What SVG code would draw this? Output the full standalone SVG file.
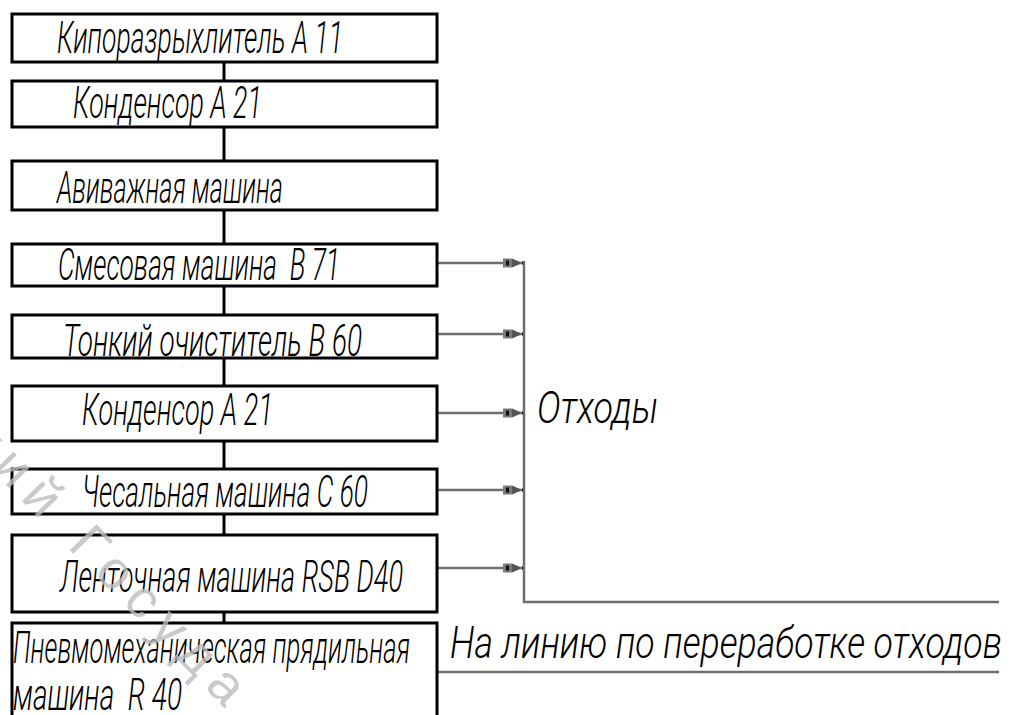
<svg xmlns="http://www.w3.org/2000/svg" width="1012" height="715" viewBox="0 0 1012 715">
<style>
.box{fill:#fff;stroke:#000;stroke-width:3}
.flow{stroke:#000;stroke-width:3;fill:none}
.waste{stroke:#6e6e6e;stroke-width:2.5;fill:none}
.t{font-family:Roboto,"DejaVu Sans",sans-serif;font-weight:300;font-style:italic;font-size:44px;fill:#000;white-space:pre}
.wm{font-family:"Liberation Sans","DejaVu Sans",sans-serif;font-size:54px;fill:#bdbdbd;opacity:0.8}
</style>
<defs>
<marker id="ah" markerUnits="userSpaceOnUse" markerWidth="24" markerHeight="14" refX="21" refY="7" orient="auto" viewBox="0 0 24 14">
<rect x="0" y="2.5" width="9" height="9" fill="#7a7a7a"/>
<rect x="3" y="4.5" width="3" height="5" fill="#111"/>
<polygon points="9,2.5 17,6 17,8 9,11.5" fill="#555"/>
<rect x="19" y="5.5" width="3" height="3" fill="#000"/>
</marker>
</defs>
<rect width="1012" height="715" fill="#fff"/>
<g id="connectors">
<line class="flow" x1="224" y1="62" x2="224" y2="81"/>
<line class="flow" x1="224" y1="127" x2="224" y2="161"/>
<line class="flow" x1="224" y1="210" x2="224" y2="244"/>
<line class="flow" x1="224" y1="286" x2="224" y2="315"/>
<line class="flow" x1="224" y1="358" x2="224" y2="386"/>
<line class="flow" x1="224" y1="441" x2="224" y2="469"/>
<line class="flow" x1="224" y1="514" x2="224" y2="535"/>
<line class="flow" x1="224" y1="612" x2="224" y2="623"/>
<line class="waste" x1="437" y1="263" x2="524" y2="263" marker-end="url(#ah)"/>
<line class="waste" x1="437" y1="334" x2="524" y2="334" marker-end="url(#ah)"/>
<line class="waste" x1="437" y1="413" x2="524" y2="413" marker-end="url(#ah)"/>
<line class="waste" x1="437" y1="490" x2="524" y2="490" marker-end="url(#ah)"/>
<line class="waste" x1="437" y1="568" x2="524" y2="568" marker-end="url(#ah)"/>
<polyline class="waste" points="524,261 524,602 999,602"/>
<line class="waste" x1="437" y1="672" x2="999" y2="672"/>
</g>
<g id="n1"><rect class="box" x="12" y="14" width="425" height="48"/><text class="t" x="57" y="53" textLength="286" lengthAdjust="spacingAndGlyphs">Кипоразрыхлитель А 11</text></g>
<g id="n2"><rect class="box" x="12" y="81" width="425" height="46"/><text class="t" x="73" y="118" textLength="189" lengthAdjust="spacingAndGlyphs">Конденсор А 21</text></g>
<g id="n3"><rect class="box" x="12" y="161" width="425" height="49"/><text class="t" x="57" y="203" textLength="226" lengthAdjust="spacingAndGlyphs">Авиважная машина</text></g>
<g id="n4"><rect class="box" x="12" y="244" width="425" height="42"/><text class="t" x="58" y="280" textLength="282" lengthAdjust="spacingAndGlyphs">Смесовая машина  В 71</text></g>
<g id="n5"><rect class="box" x="12" y="315" width="425" height="43"/><text class="t" x="63" y="356" textLength="299" lengthAdjust="spacingAndGlyphs">Тонкий очиститель В 60</text></g>
<g id="n6"><rect class="box" x="12" y="386" width="425" height="55"/><text class="t" x="82" y="425" textLength="191" lengthAdjust="spacingAndGlyphs">Конденсор А 21</text></g>
<g id="n7"><rect class="box" x="12" y="469" width="425" height="45"/><text class="t" x="82" y="507" textLength="286" lengthAdjust="spacingAndGlyphs">Чесальная машина С 60</text></g>
<g id="n8"><rect class="box" x="12" y="535" width="425" height="77"/><text class="t" x="60" y="592" textLength="343" lengthAdjust="spacingAndGlyphs">Ленточная машина RSB D40</text></g>
<g id="n9"><rect class="box" x="12" y="623" width="425" height="96"/><text class="t" x="13" y="663" textLength="397" lengthAdjust="spacingAndGlyphs">Пневмомеханическая прядильная</text><text class="t" x="13" y="710" textLength="169" lengthAdjust="spacingAndGlyphs">машина  R 40</text></g>
<g id="labels">
<text class="t" x="537" y="423" textLength="121" lengthAdjust="spacingAndGlyphs">Отходы</text>
<text class="t" x="450" y="658" textLength="552" lengthAdjust="spacingAndGlyphs">На линию по переработке отходов</text>
</g>
<text class="wm" transform="translate(-34,444) rotate(45.6)" x="0" y="0" textLength="370" lengthAdjust="spacing">кий Госуда</text>
</svg>
